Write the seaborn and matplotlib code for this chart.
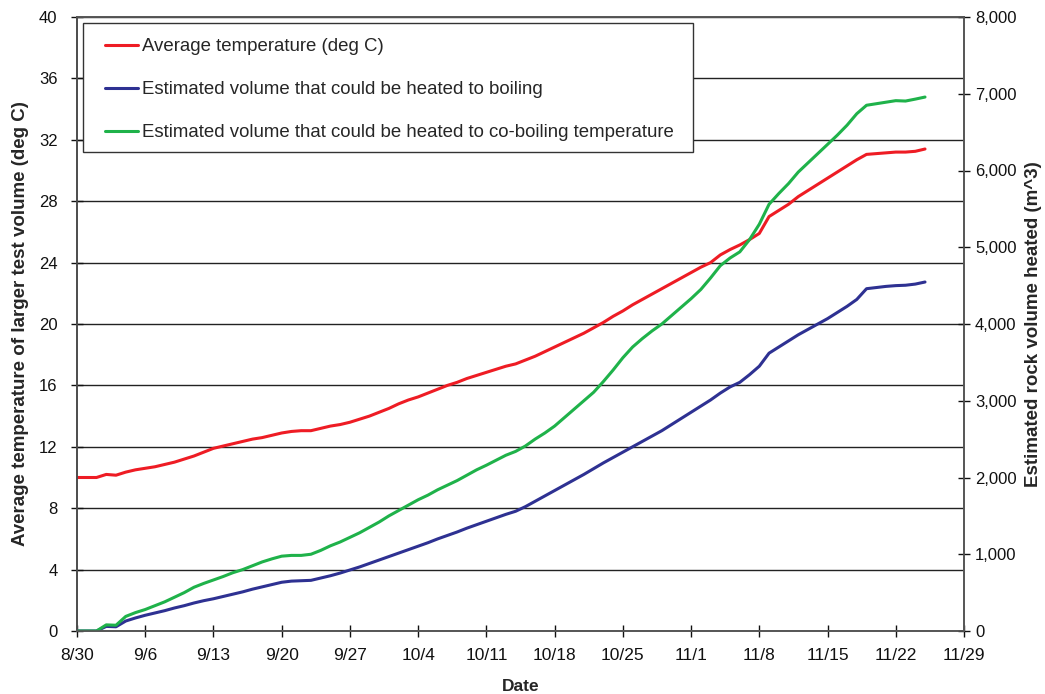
import numpy as np
import pandas as pd
import matplotlib
matplotlib.use("Agg")
import matplotlib.pyplot as plt
from matplotlib.patches import Rectangle
from matplotlib.ticker import FuncFormatter, MultipleLocator
import seaborn as sns

# ---------------- data ----------------
start_date = "2008-08-30"
n_days = 88

avg_temp = [
    10.0, 10.0, 10.0, 10.2, 10.15, 10.35, 10.5, 10.6, 10.7, 10.85,
    11.0, 11.2, 11.4, 11.65, 11.9, 12.05, 12.2, 12.35, 12.5, 12.6,
    12.75, 12.9, 13.0, 13.05, 13.05, 13.2, 13.35, 13.45, 13.6, 13.8,
    14.0, 14.25, 14.5, 14.8, 15.05, 15.25, 15.5, 15.75, 16.0, 16.2,
    16.45, 16.65, 16.85, 17.05, 17.25, 17.4, 17.65, 17.9, 18.2, 18.5,
    18.8, 19.1, 19.4, 19.75, 20.1, 20.5, 20.85, 21.25, 21.6, 21.95,
    22.3, 22.65, 23.0, 23.35, 23.7, 24.0, 24.5, 24.85, 25.15, 25.5,
    25.9, 27.0, 27.4, 27.8, 28.3, 28.7, 29.1, 29.5, 29.9, 30.3,
    30.7, 31.05, 31.1, 31.15, 31.2, 31.2, 31.25, 31.4,
]

vol_boiling = [
    0, 0, 0, 60, 55, 130, 170, 205, 235, 265,
    300, 330, 365, 395, 420, 450, 480, 510, 545, 575,
    605, 635, 650, 655, 660, 690, 720, 755, 795, 835,
    880, 925, 970, 1015, 1060, 1105, 1150, 1200, 1245, 1290,
    1340, 1385, 1430, 1475, 1520, 1560, 1620, 1690, 1760, 1830,
    1900, 1970, 2040, 2115, 2190, 2260, 2330, 2400, 2470, 2540,
    2610, 2690, 2770, 2850, 2930, 3010, 3100, 3180, 3240, 3340,
    3450, 3620, 3700, 3780, 3860, 3930, 4000, 4070, 4150, 4230,
    4320, 4460, 4475, 4490, 4500, 4505, 4520, 4547,
]

vol_coboiling = [
    0, 0, 0, 80, 75, 190, 240, 280, 330, 380,
    440, 500, 570, 620, 665, 710, 760, 800, 850, 900,
    940, 975, 985, 985, 1000, 1050, 1110, 1160, 1220, 1280,
    1350, 1420, 1500, 1570, 1640, 1710, 1770, 1840, 1900, 1960,
    2030, 2100, 2160, 2225, 2290, 2340, 2410, 2500, 2580, 2670,
    2780, 2890, 3000, 3110, 3250, 3400, 3560, 3700, 3810, 3910,
    4000, 4110, 4220, 4330, 4450, 4600, 4760, 4860, 4940, 5100,
    5300, 5560, 5700, 5830, 5980, 6100, 6220, 6340, 6460, 6590,
    6740, 6850, 6870, 6890, 6910, 6905, 6930, 6957,
]

series_labels = [
    "Average temperature (deg C)",
    "Estimated volume that could be heated to boiling",
    "Estimated volume that could be heated to co-boiling temperature",
]
series_colors = ["#ee1c24", "#2e3192", "#1fb24a"]

x_tick_start = "2008-08-30"
x_tick_end = "2008-11-29"

# ---------------- figure ----------------
sns.set_theme(style="white")
plt.rcParams["font.family"] = ["Liberation Sans", "DejaVu Sans"]

dates = pd.date_range(start_date, periods=n_days, freq="D")
df = pd.DataFrame({"date": dates, "temp": avg_temp,
                   "boil": vol_boiling, "coboil": vol_coboiling})

fig = plt.figure(figsize=(10.45, 6.94), dpi=100)
ax = fig.add_axes([77 / 1045, 1 - 631 / 694, (964 - 77) / 1045, (631 - 17) / 694])
ax2 = ax.twinx()

sns.lineplot(data=df, x="date", y="temp", ax=ax, color=series_colors[0],
             linewidth=2.2, label=series_labels[0], legend=False)
sns.lineplot(data=df, x="date", y="boil", ax=ax2, color=series_colors[1],
             linewidth=2.2, label=series_labels[1], legend=False)
sns.lineplot(data=df, x="date", y="coboil", ax=ax2, color=series_colors[2],
             linewidth=2.2, label=series_labels[2], legend=False)

ax.set_ylim(0, 40)
ax2.set_ylim(0, 8000)
ax.set_xlim(pd.Timestamp(x_tick_start), pd.Timestamp(x_tick_end))
ax.yaxis.set_major_locator(MultipleLocator(4))
ax2.yaxis.set_major_locator(MultipleLocator(1000))
ax2.yaxis.set_major_formatter(FuncFormatter(lambda v, p: f"{int(v):,}"))

xt = pd.date_range(x_tick_start, x_tick_end, freq="7D")
ax.set_xticks(xt)
ax.set_xticklabels([f"{d.month}/{d.day}" for d in xt])

ax.grid(True, axis="y", color="#222222", linewidth=1.0)
ax.grid(False, axis="x")
ax2.grid(False)
ax.set_axisbelow(True)

for a in (ax, ax2):
    for s in a.spines.values():
        s.set_color("#555555")
        s.set_linewidth(1.2)
ax.spines["left"].set_color("#111111")

tick_fs = 12
ax.tick_params(axis="both", direction="inout", length=8, width=1, colors="#111111",
               labelsize=tick_fs, left=True, bottom=True)
ax.tick_params(axis="y", pad=10)
ax.tick_params(axis="x", pad=8, labelsize=12.5)
ax2.tick_params(axis="y", direction="inout", length=8, width=1, colors="#111111",
                labelsize=tick_fs, right=True, pad=4)

ax.set_xlabel("Date", fontsize=12.5, fontweight="bold", labelpad=12)
ax.set_ylabel("Average temperature of larger test volume (deg C)", fontsize=13.5,
              fontweight="bold", labelpad=7)
ax2.set_ylabel("Estimated rock volume heated (m^3)", fontsize=13.5,
               fontweight="bold", labelpad=6)

# legend (text + handles from the library), framed by a plain rectangle
handles = ax.get_lines()[:1] + ax2.get_lines()[:2]
leg = ax.legend(handles, series_labels, loc="upper left",
                bbox_to_anchor=((105 - 77) / 887, 1 - (38 - 17) / 614),
                fontsize=13.4, frameon=False,
                labelspacing=1.4, handlelength=1.75, handletextpad=0.22,
                borderpad=0, borderaxespad=0)
leg.set_zorder(10)
frame = Rectangle(((83 - 77) / 887, 1 - (152 - 17) / 614),
                  (693 - 83) / 887, (152 - 23) / 614,
                  transform=ax.transAxes, facecolor="white",
                  edgecolor="#333333", linewidth=1.0, zorder=9)
ax.add_patch(frame)

fig.savefig("out.png", dpi=100, facecolor="white")
